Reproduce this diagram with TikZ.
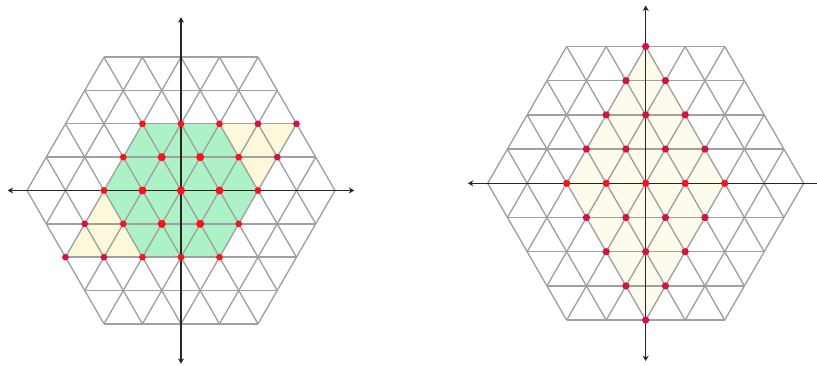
\documentclass[tikz,border=0pt]{standalone}
\usetikzlibrary{arrows.meta}

\definecolor{gridgray}{HTML}{A0A0A0}
\definecolor{hexgreen}{HTML}{ADF2C6}
\definecolor{hexyellow}{HTML}{FCF8DA}
\definecolor{paleyellow}{HTML}{FDFBEB}
\definecolor{dotred}{HTML}{F8141C}
\definecolor{dotcrim}{HTML}{D0144A}

\begin{document}
\begin{tikzpicture}[>={Stealth[length=4pt,width=4.5pt]},
    gridline/.style={gridgray,line width=1pt},
    axis/.style={<->,black!85,line width=1.1pt}]
  \def\h{0.866}
  \useasboundingbox (0,0) rectangle (21.221,9.506);
  % left lattice
  \begin{scope}[shift={(4.701,4.558)}]
    \fill[hexyellow] (1,2*\h) -- (3,2*\h) -- (2,0) -- cycle;
    \fill[hexyellow] (-2,0) -- (-3,-2*\h) -- (-1,-2*\h) -- cycle;
    \fill[hexgreen] (-1,2*\h) -- (1,2*\h) -- (2,0) -- (1,-2*\h) -- (-1,-2*\h) -- (-2,0) -- cycle;
    \foreach \a in {0,60,120}
      \foreach \k in {-4,...,4}
        \draw[gridline,rotate=\a] ({-4+abs(\k)/2},{\k*\h}) -- ({4-abs(\k)/2},{\k*\h});
    \draw[axis] (-4.5,0) -- (4.5,0);
    \draw[axis] (0,-4.5) -- (0,4.5);
    \foreach \k in {-2,...,2}
      \foreach \m in {0,...,4} {
        \pgfmathtruncatemacro\s{\k+\m}
        \ifnum\s>4 \def\c{dotcrim}\else\ifnum\s<0 \def\c{dotcrim}\else\def\c{dotred}\fi\fi
        \fill[\c] ({\k/2-2+\m},{\k*\h}) circle (0.088);
      }
    \foreach \p in {(-0.5,\h),(0.5,\h),(-1,0),(0,0),(1,0),(-0.5,-\h),(0.5,-\h)}
      \fill[dotred] \p circle (0.105);
  \end{scope}
  % right lattice
  \begin{scope}[shift={(16.771,4.745)},scale=1.026]
    \fill[paleyellow] (0,4*\h) -- (2,0) -- (0,-4*\h) -- (-2,0) -- cycle;
    \foreach \a in {0,60,120}
      \foreach \k in {-4,...,4}
        \draw[gridline,rotate=\a] ({-4+abs(\k)/2},{\k*\h}) -- ({4-abs(\k)/2},{\k*\h});
    \draw[axis] (-4.5,0) -- (4.5,0);
    \draw[axis] (0,-4.5) -- (0,4.5);
    \foreach \k in {-4,...,4} {
      \pgfmathtruncatemacro\n{4-abs(\k)}
      \ifnum\k=0 \def\c{dotred}\else\def\c{dotcrim}\fi
      \foreach \m in {0,...,\n}
        \fill[\c] ({-\n/2+\m},{\k*\h}) circle (0.092);
    }
  \end{scope}
\end{tikzpicture}
\end{document}
